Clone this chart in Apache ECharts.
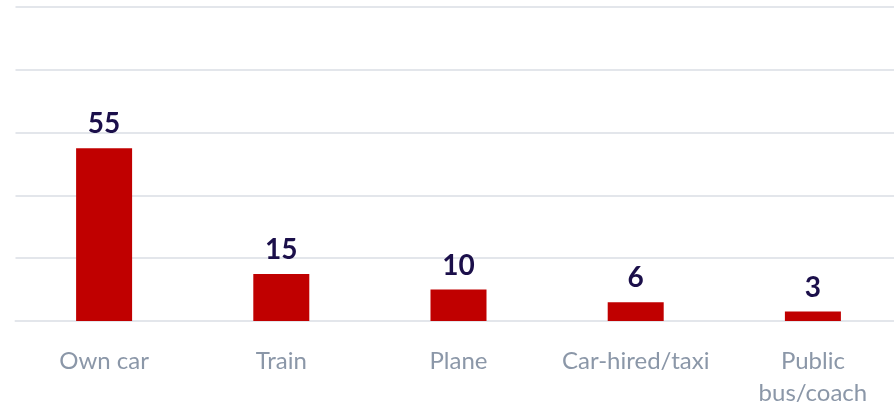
<!DOCTYPE html>
<html>
<head>
<meta charset="utf-8">
<script src="https://cdn.jsdelivr.net/npm/echarts@6/dist/echarts.min.js"></script>
<style>html,body{margin:0;padding:0;background:#fff}#c{width:894px;height:406px}</style>
</head>
<body>
<div id="c"></div>
<script>
var categories = ['Own car', 'Train', 'Plane', 'Car-hired/taxi', 'Public\nbus/coach'];
var values = [55, 15, 10, 6, 3];
var yTicks = [0, 20, 40, 60, 80, 100];

var chart = echarts.init(document.getElementById('c'), null, {renderer: 'canvas'});
chart.setOption({
  animation: false,
  grid: {left: 15.5, top: 7, width: 886, height: 314, containLabel: false, outerBoundsMode: 'none'},
  xAxis: {
    type: 'category',
    data: categories,
    axisLine: {show: true, lineStyle: {color: '#e3e6eb', width: 2}},
    axisTick: {show: false},
    axisLabel: {
      color: '#8b97a8', fontFamily: 'Lato', fontSize: 24, lineHeight: 32, margin: 24, interval: 0
    }
  },
  yAxis: {
    type: 'value',
    min: yTicks[0], max: yTicks[yTicks.length - 1], interval: 20,
    axisLabel: {show: false},
    axisLine: {show: false},
    axisTick: {show: false},
    splitLine: {show: true, lineStyle: {color: '#e3e6eb', width: 2}}
  },
  series: [{
    type: 'bar',
    data: values,
    barWidth: 56,
    itemStyle: {color: '#c00000'},
    label: {
      show: true, position: 'top', distance: 10,
      color: '#1b0f4a', fontFamily: 'Lato', fontWeight: 'bold', fontSize: 28
    }
  }]
});
</script>
</body>
</html>
